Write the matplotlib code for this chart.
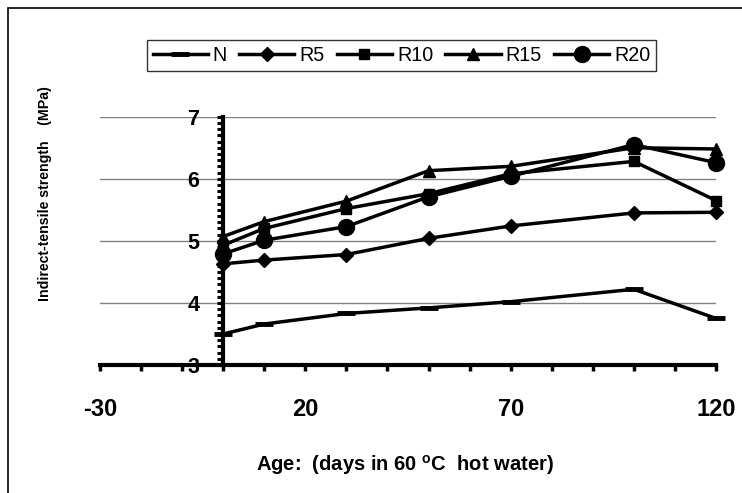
import matplotlib
matplotlib.use("Agg")
import matplotlib.pyplot as plt
from matplotlib.ticker import MultipleLocator
from matplotlib.patches import Rectangle

plt.rcParams['font.family'] = ['Liberation Sans', 'DejaVu Sans']
plt.rcParams['axes.unicode_minus'] = False
plt.rcParams['mathtext.fontset'] = 'custom'
plt.rcParams['mathtext.rm'] = 'Liberation Sans:bold'
plt.rcParams['mathtext.bf'] = 'Liberation Sans:bold'

days = [0, 10, 30, 50, 70, 100, 120]
N = [3.50, 3.66, 3.83, 3.92, 4.02, 4.22, 3.75]
R5 = [4.63, 4.69, 4.78, 5.04, 5.24, 5.45, 5.46]
R10 = [4.93, 5.20, 5.52, 5.76, 6.08, 6.28, 5.65]
R15 = [5.07, 5.31, 5.64, 6.13, 6.20, 6.50, 6.48]
R20 = [4.79, 5.01, 5.23, 5.71, 6.04, 6.55, 6.26]
series_names = ["N", "R5", "R10", "R15", "R20"]
x_ticks = [-30, 20, 70, 120]
y_ticks = [3, 4, 5, 6, 7]

fig = plt.figure(figsize=(7.42, 4.93), dpi=100)
fig.patches.append(Rectangle((8/742, -0.01), 1.0, 1 - 8/493 + 0.01, transform=fig.transFigure,
                             fill=False, edgecolor='black', linewidth=1.2))

ax = fig.add_axes([100/742, 128/493, 616/742, 248.3/493])
ax.set_xlim(-30, 120)
ax.set_ylim(3, 7)

# grid lines
for yv in y_ticks[1:]:
    ax.axhline(yv, color='#808080', linewidth=1.0, zorder=1)

styles = [
    dict(marker='_', ms=13, mew=3.5),
    dict(marker='D', ms=7),
    dict(marker='s', ms=6.5),
    dict(marker='^', ms=8),
    dict(marker='o', ms=11.5),
]
data = [N, R5, R10, R15, R20]
handles = []
for name, vals, st in zip(series_names, data, styles):
    h, = ax.plot(days, vals, color='black', linewidth=2.5, label=name,
                 markerfacecolor='black', markeredgecolor='black', clip_on=False,
                 zorder=3, **st)
    handles.append(h)

for s in ['top', 'right']:
    ax.spines[s].set_visible(False)
ax.spines['left'].set_position(('data', 0))
ax.spines['left'].set_linewidth(3)
ax.spines['bottom'].set_linewidth(3)
ax.spines['left'].set_zorder(4)

ax.xaxis.set_minor_locator(MultipleLocator(10))
ax.set_xticks(x_ticks)
ax.yaxis.set_minor_locator(MultipleLocator(0.1))
ax.set_yticks(y_ticks)

ax.tick_params(axis='x', which='both', direction='out', length=4, width=2.5, pad=20,
               labelsize=17)
ax.tick_params(axis='y', which='both', direction='out', length=4, width=2.2, pad=13,
               labelsize=15.5)
for lab in ax.get_xticklabels() + ax.get_yticklabels():
    lab.set_fontweight('bold')

fig.text(405/742, 1 - 465/493, r"Age:  (days in 60 $^{\mathbf{o}}$C  hot water)",
         ha='center', va='center', fontsize=14.5, fontweight='bold')
fig.text(45/742, 1 - 194/493, "Indirect-tensile strength    (MPa)", rotation=90,
         ha='center', va='center', fontsize=10.2, fontweight='bold')

leg = fig.legend(handles=handles, loc='center', bbox_to_anchor=(401.5/742, 1 - 55.5/493),
                 ncol=5, fontsize=14.2, frameon=True, fancybox=False, handlelength=2.8,
                 handletextpad=0.25, columnspacing=0.62, borderpad=0.3,
                 borderaxespad=0)
leg.get_frame().set_edgecolor('black')
leg.get_frame().set_linewidth(1.0)

fig.savefig("out.png", dpi=100)
